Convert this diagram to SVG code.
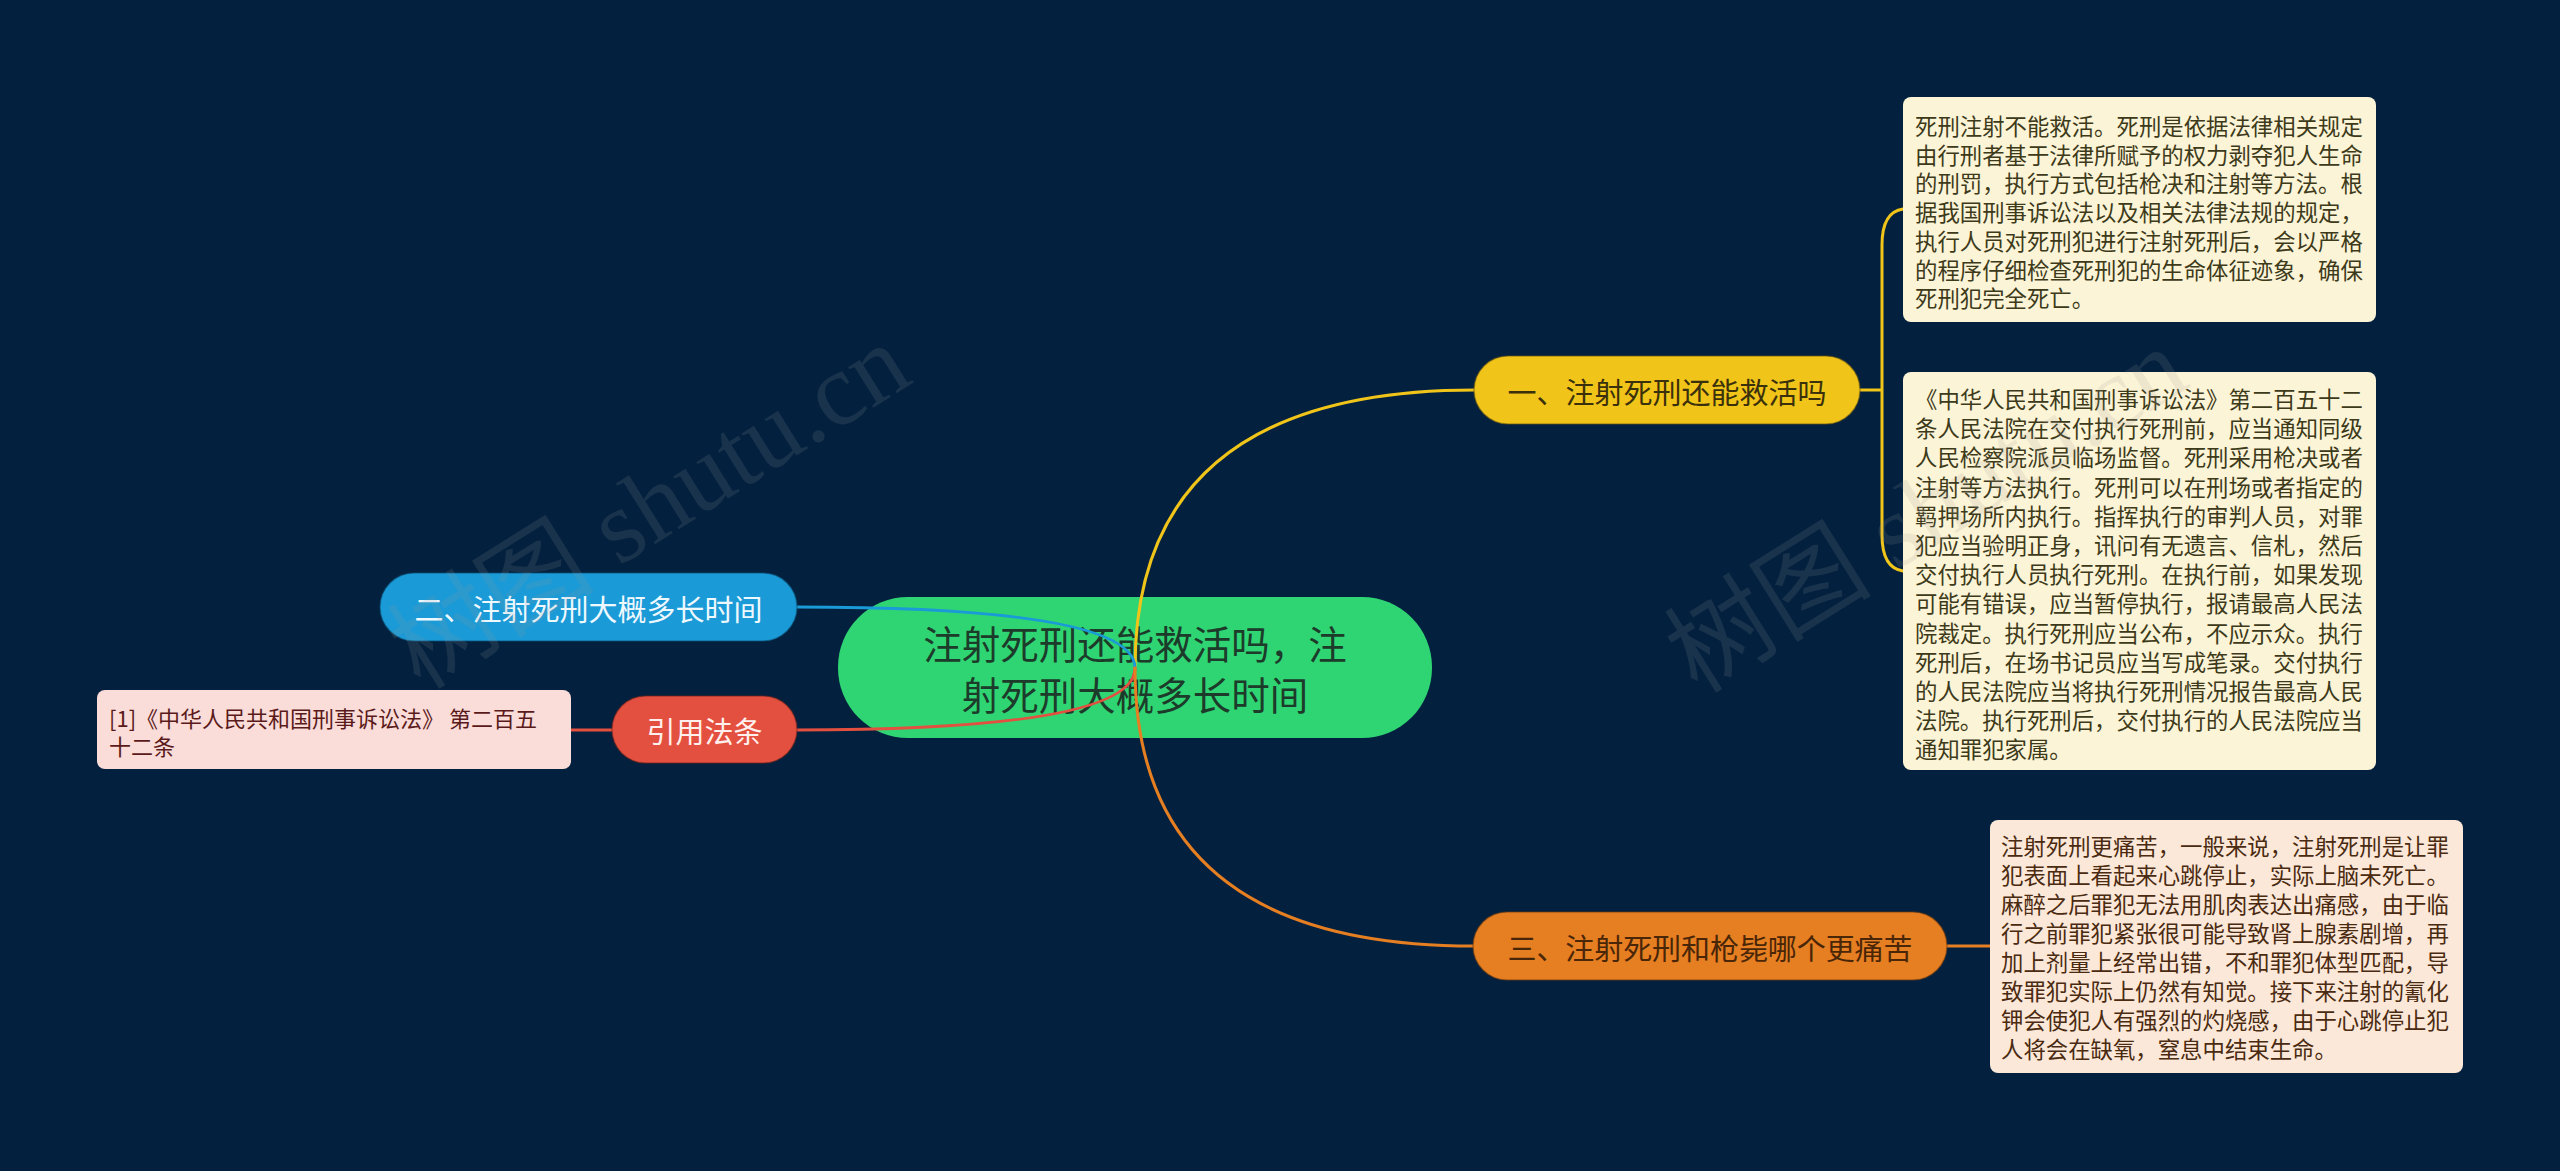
<svg xmlns="http://www.w3.org/2000/svg" width="2560" height="1171" viewBox="0 0 2560 1171">
<style>
.cjk{font-family:'Noto Sans CJK SC','Noto Sans',sans-serif;}
.node{font-size:29px;text-anchor:middle;dominant-baseline:central;}
.box{font-size:22.4px;dominant-baseline:central;}
.edge{fill:none;stroke-width:3;stroke-linecap:round;}
.wm{font-family:'Liberation Serif','Noto Sans CJK SC',serif;font-size:104px;fill:#9a9a9a;fill-opacity:0.15;}
</style>
<rect width="2560" height="1171" fill="#03213f"/>

<g id="root">
<rect x="838" y="597" width="594" height="141" rx="70" fill="#2fd573"/>
<text class="cjk node" fill="#1d3b2a" style="font-size:38.5px"><tspan x="1135" y="642">注射死刑还能救活吗，注</tspan><tspan x="1135" y="693">射死刑大概多长时间</tspan></text>
</g>

<g id="connectors">
<path class="edge" stroke="#f0c419" d="M1135,668 Q1135,390 1475,390"/>
<path class="edge" stroke="#f0c419" d="M1860,390 L1882,390 M1903,209 Q1882,212 1882,245 L1882,535 Q1882,568 1903,571"/>
<path class="edge" stroke="#1a9ad6" d="M1135,668 Q1135,607 797,607"/>
<path class="edge" stroke="#e4503f" d="M1135,668 Q1135,730 797,730"/>
<path class="edge" stroke="#e4503f" d="M612,730 L571,730"/>
<path class="edge" stroke="#e67e22" d="M1135,668 Q1135,946 1474,946"/>
<path class="edge" stroke="#e67e22" d="M1947,946 L1990,946"/>
</g>

<g id="n1">
<rect x="1474" y="356" width="386" height="68" rx="34" fill="#f0c419" stroke="#6b5510" stroke-opacity="0.5" stroke-width="1.5"/>
<text class="cjk node" x="1667" y="391" fill="#3b300c">一、注射死刑还能救活吗</text>
</g>

<g id="n1a">
<rect x="1903" y="97" width="473" height="225" rx="8" fill="#fcf4d6"/>
<text class="cjk box" fill="#3d3a1a"><tspan x="1915" y="125">死刑注射不能救活。死刑是依据法律相关规定</tspan><tspan x="1915" y="153.7">由行刑者基于法律所赋予的权力剥夺犯人生命</tspan><tspan x="1915" y="182.4">的刑罚，执行方式包括枪决和注射等方法。根</tspan><tspan x="1915" y="211.1">据我国刑事诉讼法以及相关法律法规的规定，</tspan><tspan x="1915" y="239.8">执行人员对死刑犯进行注射死刑后，会以严格</tspan><tspan x="1915" y="268.5">的程序仔细检查死刑犯的生命体征迹象，确保</tspan><tspan x="1915" y="297.2">死刑犯完全死亡。</tspan></text>
</g>

<g id="n1b">
<rect x="1903" y="372" width="473" height="398" rx="8" fill="#fcf4d6"/>
<text class="cjk box" fill="#3d3a1a"><tspan x="1915" y="398">《中华人民共和国刑事诉讼法》第二百五十二</tspan><tspan x="1915" y="427.2">条人民法院在交付执行死刑前，应当通知同级</tspan><tspan x="1915" y="456.4">人民检察院派员临场监督。死刑采用枪决或者</tspan><tspan x="1915" y="485.6">注射等方法执行。死刑可以在刑场或者指定的</tspan><tspan x="1915" y="514.8">羁押场所内执行。指挥执行的审判人员，对罪</tspan><tspan x="1915" y="544">犯应当验明正身，讯问有无遗言、信札，然后</tspan><tspan x="1915" y="573.2">交付执行人员执行死刑。在执行前，如果发现</tspan><tspan x="1915" y="602.4">可能有错误，应当暂停执行，报请最高人民法</tspan><tspan x="1915" y="631.6">院裁定。执行死刑应当公布，不应示众。执行</tspan><tspan x="1915" y="660.8">死刑后，在场书记员应当写成笔录。交付执行</tspan><tspan x="1915" y="690">的人民法院应当将执行死刑情况报告最高人民</tspan><tspan x="1915" y="719.2">法院。执行死刑后，交付执行的人民法院应当</tspan><tspan x="1915" y="748.4">通知罪犯家属。</tspan></text>
</g>

<g id="n2">
<rect x="380" y="573" width="417" height="68" rx="34" fill="#1a9ad6" stroke="#0b4f75" stroke-opacity="0.5" stroke-width="1.5"/>
<text class="cjk node" x="588.5" y="608" fill="#eef8ff">二、注射死刑大概多长时间</text>
</g>

<g id="n3">
<rect x="1473" y="912" width="474" height="68" rx="34" fill="#e67e22" stroke="#6e3a0c" stroke-opacity="0.5" stroke-width="1.5"/>
<text class="cjk node" x="1710" y="947" fill="#4a2608" textLength="405">三、注射死刑和枪毙哪个更痛苦</text>
</g>

<g id="n3a">
<rect x="1990" y="820" width="473" height="253" rx="8" fill="#fce8d8"/>
<text class="cjk box" fill="#4a2a10"><tspan x="2001" y="845">注射死刑更痛苦，一般来说，注射死刑是让罪</tspan><tspan x="2001" y="874">犯表面上看起来心跳停止，实际上脑未死亡。</tspan><tspan x="2001" y="903">麻醉之后罪犯无法用肌肉表达出痛感，由于临</tspan><tspan x="2001" y="932">行之前罪犯紧张很可能导致肾上腺素剧增，再</tspan><tspan x="2001" y="961">加上剂量上经常出错，不和罪犯体型匹配，导</tspan><tspan x="2001" y="990">致罪犯实际上仍然有知觉。接下来注射的氰化</tspan><tspan x="2001" y="1019">钾会使犯人有强烈的灼烧感，由于心跳停止犯</tspan><tspan x="2001" y="1048">人将会在缺氧，窒息中结束生命。</tspan></text>
</g>

<g id="n4">
<rect x="612" y="696" width="185" height="67" rx="33.5" fill="#e4503f" stroke="#7a2218" stroke-opacity="0.5" stroke-width="1.5"/>
<text class="cjk node" x="704.5" y="730" fill="#fff0ee">引用法条</text>
</g>

<g id="n4a">
<rect x="97" y="690" width="474" height="79" rx="8" fill="#fadcd9"/>
<text class="cjk box" fill="#5a1a1a" style="font-size:22px"><tspan x="109" y="717">[1]《中华人民共和国刑事诉讼法》 第二百五</tspan><tspan x="109" y="745">十二条</tspan></text>
</g>

<g id="watermark">
<text class="wm" x="649" y="506" text-anchor="middle" dominant-baseline="central" transform="rotate(-32 649 506)">树图 shutu.cn</text>
<text class="wm" x="1926" y="510" text-anchor="middle" dominant-baseline="central" transform="rotate(-32 1926 510)">树图 shutu.cn</text>
</g>
</svg>
